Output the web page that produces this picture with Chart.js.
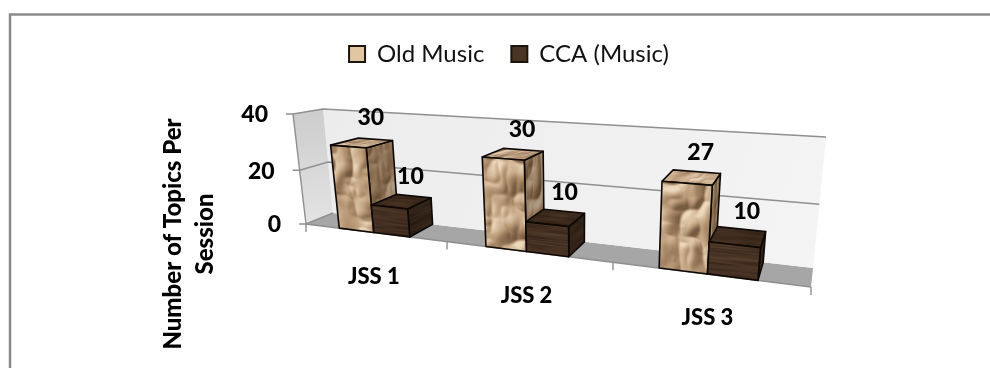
<!DOCTYPE html>
<html>
<head>
<meta charset="utf-8">
<script src="https://cdn.jsdelivr.net/npm/chart.js@4"></script>
<style>
  html, body { margin: 0; padding: 0; background: #fff; }
  canvas { display: block; }
</style>
</head>
<body>
<canvas id="chart-topics" width="990" height="368"></canvas>
<script>
const categories = ['JSS 1', 'JSS 2', 'JSS 3'];
const oldMusic = [30, 30, 27];
const ccaMusic = [10, 10, 10];
const seriesNames = ['Old Music', 'CCA (Music)'];
const axisTitleLines = ['Number of Topics Per', 'Session'];

const FONT = 'Lato, "Liberation Sans", Arial, sans-serif';
const HEAVY = '900 ';

// corners of the 3D box the plot area gets projected onto: [u0v0, u1v0, u0v1, u1v1]
const FRONT_PLANE = [[306, 224], [811, 287], [293, 114], [825, 147]];
const BACK_PLANE  = [[333, 213], [813, 268], [323, 109], [826, 137]];

function quadTransform(q) {
  const [p00, p10, p01, p11] = q;
  const dx1 = p10[0] - p11[0], dx2 = p01[0] - p11[0], sx = p00[0] - p10[0] + p11[0] - p01[0];
  const dy1 = p10[1] - p11[1], dy2 = p01[1] - p11[1], sy = p00[1] - p10[1] + p11[1] - p01[1];
  const det = dx1 * dy2 - dx2 * dy1;
  const g = (sx * dy2 - dx2 * sy) / det;
  const h = (dx1 * sy - sx * dy1) / det;
  const a = p10[0] - p00[0] + g * p10[0], b = p01[0] - p00[0] + h * p01[0], c = p00[0];
  const d = p10[1] - p00[1] + g * p10[1], e = p01[1] - p00[1] + h * p01[1], f = p00[1];
  return (u, v) => {
    const w = g * u + h * v + 1;
    return [(a * u + b * v + c) / w, (d * u + e * v + f) / w];
  };
}

const frontMap = quadTransform(FRONT_PLANE);
const backMap = quadTransform(BACK_PLANE);

function project(u, v, depth) {
  const f = frontMap(u, v), b = backMap(u, v);
  return [f[0] + (b[0] - f[0]) * depth, f[1] + (b[1] - f[1]) * depth];
}

function mix(a, b, t) {
  return a.map((c, i) => c + (b[i] - c) * t);
}

// lattice noise for the bar textures
function hash2(ix, iy) {
  const s = Math.sin(ix * 127.1 + iy * 311.7) * 43758.5453;
  return s - Math.floor(s);
}

function valueNoise(x, y) {
  const ix = Math.floor(x), iy = Math.floor(y);
  const fx = x - ix, fy = y - iy;
  const sx = fx * fx * (3 - 2 * fx), sy = fy * fy * (3 - 2 * fy);
  const top = hash2(ix, iy) + (hash2(ix + 1, iy) - hash2(ix, iy)) * sx;
  const bot = hash2(ix, iy + 1) + (hash2(ix + 1, iy + 1) - hash2(ix, iy + 1)) * sx;
  return top + (bot - top) * sy;
}

// height field of the crumpled sheet
function paperHeight(x, y) {
  const a = Math.abs(2 * valueNoise(x / 34, y / 34) - 1);
  const b = Math.abs(2 * valueNoise(x / 15 + 5, y / 15 + 7) - 1);
  return 22 * a + 6 * b;
}

// crumpled paper: light the height field from the upper left
function makePaperTexture(w, h) {
  const cv = document.createElement('canvas');
  cv.width = w; cv.height = h;
  const c = cv.getContext('2d');
  const img = c.createImageData(w, h);
  const dark = [118, 90, 64], base = [186, 154, 120], light = [236, 216, 188];
  for (let y = 0; y < h; y++) {
    for (let x = 0; x < w; x++) {
      const slope = paperHeight(x + 2, y + 2) - paperHeight(x - 2, y - 2);
      const n = Math.max(-1, Math.min(1, slope / 7));
      const col = n < 0 ? mix(base, dark, -n) : mix(base, light, n);
      const i = (y * w + x) * 4;
      img.data[i] = col[0]; img.data[i + 1] = col[1]; img.data[i + 2] = col[2]; img.data[i + 3] = 255;
    }
  }
  c.putImageData(img, 0, 0);
  return cv;
}

// dark wood: long horizontal streaks
function makeWoodTexture(w, h) {
  const cv = document.createElement('canvas');
  cv.width = w; cv.height = h;
  const c = cv.getContext('2d');
  const img = c.createImageData(w, h);
  const dark = [48, 30, 20], light = [92, 68, 50];
  for (let y = 0; y < h; y++) {
    for (let x = 0; x < w; x++) {
      const n = 0.6 * valueNoise(x / 70, y / 4) + 0.4 * valueNoise(x / 40 + 8, y / 9 + 2);
      const col = mix(dark, light, n);
      const i = (y * w + x) * 4;
      img.data[i] = col[0]; img.data[i + 1] = col[1]; img.data[i + 2] = col[2]; img.data[i + 3] = 255;
    }
  }
  c.putImageData(img, 0, 0);
  return cv;
}

const paperTex = makePaperTexture(400, 400);
const woodTex = makeWoodTexture(400, 400);

function polygon(ctx, pts) {
  ctx.beginPath();
  pts.forEach((p, i) => i ? ctx.lineTo(p[0], p[1]) : ctx.moveTo(p[0], p[1]));
  ctx.closePath();
}

// pts run top-left, top-right, bottom-right, bottom-left
function drawFace(ctx, pts, tex, crop, shade) {
  const [sx, sy, sw, sh] = crop;
  ctx.save();
  polygon(ctx, pts);
  ctx.clip();
  const [p0, p1, , p3] = pts;
  ctx.transform((p1[0] - p0[0]) / sw, (p1[1] - p0[1]) / sw, (p3[0] - p0[0]) / sh, (p3[1] - p0[1]) / sh, p0[0], p0[1]);
  ctx.imageSmoothingQuality = 'high';
  ctx.drawImage(tex, -sx, -sy);
  ctx.restore();
  if (shade) {
    polygon(ctx, pts);
    ctx.fillStyle = shade;
    ctx.fill();
  }
  polygon(ctx, pts);
  ctx.strokeStyle = '#0d0805';
  ctx.lineWidth = 1.6;
  ctx.lineJoin = 'round';
  ctx.stroke();
}

function drawBox(ctx, u0, u1, v, tex, crop, topShade, sideShade) {
  const f00 = project(u0, 0, 0), f10 = project(u1, 0, 0);
  const f01 = project(u0, v, 0), f11 = project(u1, v, 0);
  const b10 = project(u1, 0, 1), b01 = project(u0, v, 1), b11 = project(u1, v, 1);
  drawFace(ctx, [f11, b11, b10, f10], tex, [crop[0] + 60, crop[1] + 20, 70, 110], sideShade);
  drawFace(ctx, [b01, b11, f11, f01], tex, [crop[0], crop[1] + 150, 110, 40], topShade);
  drawFace(ctx, [f01, f11, f10, f00], tex, crop, null);
}

const walls3d = {
  id: 'walls3d',
  beforeDraw(chart) {
    const ctx = chart.ctx;
    // frame: left and top only, the rest runs off the page
    ctx.save();
    ctx.strokeStyle = '#8a8a8a';
    ctx.lineWidth = 2.5;
    ctx.beginPath();
    ctx.moveTo(10, 368);
    ctx.lineTo(10, 14.5);
    ctx.lineTo(990, 14.5);
    ctx.stroke();
    ctx.restore();
  },
  beforeDatasetsDraw(chart) {
    const ctx = chart.ctx;
    const area = chart.chartArea;
    const xScale = chart.scales.x, yScale = chart.scales.y;
    const toU = px => (px - area.left) / (area.right - area.left);
    const toV = px => (area.bottom - px) / (area.bottom - area.top);

    ctx.save();

    // floor
    polygon(ctx, [project(0, 0, 0), project(1, 0, 0), project(1, 0, 1), project(0, 0, 1)]);
    ctx.fillStyle = '#a6a6a6';
    ctx.fill();

    // back wall
    const backTop = project(0, 1, 1), backBottom = project(0, 0, 1);
    polygon(ctx, [backTop, project(1, 1, 1), project(1, 0, 1), backBottom]);
    const backFill = ctx.createLinearGradient(backTop[0], backTop[1], 826, 268);
    backFill.addColorStop(0, '#ececec');
    backFill.addColorStop(1, '#f4f4f4');
    ctx.fillStyle = backFill;
    ctx.fill();

    // side wall, lighter toward the floor
    const sideTop = project(0, 1, 0.5), sideBottom = project(0, 0, 0.5);
    polygon(ctx, [project(0, 1, 0), project(0, 1, 1), project(0, 0, 1), project(0, 0, 0)]);
    const sideFill = ctx.createLinearGradient(sideTop[0], sideTop[1], sideBottom[0], sideBottom[1]);
    sideFill.addColorStop(0, '#cdcdcd');
    sideFill.addColorStop(1, '#e2e2e2');
    ctx.fillStyle = sideFill;
    ctx.fill();

    // gridlines run along the side wall and across the back wall
    ctx.strokeStyle = '#8f8f8f';
    ctx.lineWidth = 1.4;
    const tickV = yScale.ticks.map(t => toV(yScale.getPixelForValue(t.value)));
    tickV.forEach(v => {
      const a = project(0, v, 0), b = project(0, v, 1), c = project(1, v, 1);
      ctx.beginPath();
      ctx.moveTo(a[0] - 7, a[1]);
      ctx.lineTo(a[0], a[1]);
      ctx.lineTo(b[0], b[1]);
      if (v > 0) ctx.lineTo(c[0], c[1]);
      ctx.stroke();
    });

    // axis edges and category ticks
    const axisTop = project(0, 1, 0), axisBottom = project(0, 0, 0), axisEnd = project(1, 0, 0);
    ctx.beginPath();
    ctx.moveTo(axisTop[0], axisTop[1]);
    ctx.lineTo(axisBottom[0], axisBottom[1]);
    ctx.lineTo(axisEnd[0], axisEnd[1]);
    ctx.stroke();
    const slotCount = categories.length;
    for (let i = 0; i <= slotCount; i++) {
      const p = project(i / slotCount, 0, 0);
      ctx.beginPath();
      ctx.moveTo(p[0], p[1]);
      ctx.lineTo(p[0], p[1] + 8);
      ctx.stroke();
    }

    // bars, group by group so the nearer ones overlap properly
    const labels = [];
    categories.forEach((cat, i) => {
      chart.data.datasets.forEach((ds, di) => {
        const el = chart.getDatasetMeta(di).data[i];
        const u0 = toU(el.x - el.width / 2), u1 = toU(el.x + el.width / 2);
        const v = toV(el.y);
        const crop = [10 + i * 90, 10 + i * 70, 75, 120];
        if (di === 0) {
          drawBox(ctx, u0, u1, v, paperTex, crop, 'rgba(255,240,215,0.1)', 'rgba(60,40,20,0.35)');
        } else {
          drawBox(ctx, u0, u1, v, woodTex, crop, 'rgba(30,18,8,0.25)', 'rgba(15,8,4,0.35)');
        }
        const top = project((u0 + u1) / 2, v, 0.5);
        labels.push([ds.data[i], top[0] + 9, top[1] - 25]);
      });
    });

    // value labels
    ctx.fillStyle = '#000';
    ctx.textAlign = 'center';
    ctx.textBaseline = 'middle';
    ctx.font = HEAVY + '23px ' + FONT;
    labels.forEach(([val, x, y]) => ctx.fillText(String(val), x, y));

    // value axis labels
    yScale.ticks.forEach(t => {
      const p = project(0, toV(yScale.getPixelForValue(t.value)), 0);
      ctx.textAlign = 'right';
      ctx.fillText(String(t.value), p[0] - 25, p[1] + 1);
    });

    // category labels
    ctx.textAlign = 'center';
    ctx.font = HEAVY + '22px ' + FONT;
    categories.forEach((cat, i) => {
      const u = toU(xScale.getPixelForValue(i));
      const p = project(u, 0, 0);
      ctx.fillText(cat, p[0], p[1] + 44);
    });

    // axis title, two lines
    ctx.save();
    ctx.translate(173, 234);
    ctx.rotate(-Math.PI / 2);
    ctx.font = HEAVY + '24px ' + FONT;
    ctx.fillText(axisTitleLines[0], 0, 0);
    ctx.fillText(axisTitleLines[1], 0, 32);
    ctx.restore();

    ctx.restore();
    return false;
  }
};

new Chart(document.getElementById('chart-topics'), {
  type: 'bar',
  data: {
    labels: categories,
    datasets: [{
      label: seriesNames[0],
      data: oldMusic,
      backgroundColor: '#e2c6a2',
      borderColor: '#1c140e',
      borderWidth: 2
    }, {
      label: seriesNames[1],
      data: ccaMusic,
      backgroundColor: '#4a3525',
      borderColor: '#1c140e',
      borderWidth: 2
    }]
  },
  options: {
    responsive: false,
    animation: false,
    layout: { padding: { left: 28, top: 15, right: 0, bottom: 0 } },
    categoryPercentage: 0.5,
    barPercentage: 1,
    scales: {
      x: { display: false },
      y: { display: false, min: 0, max: 40, ticks: { stepSize: 20 } }
    },
    plugins: {
      tooltip: { enabled: false },
      legend: {
        position: 'top',
        labels: {
          boxWidth: 16,
          boxHeight: 16,
          padding: 27,
          color: '#111',
          font: { family: FONT, size: 24 }
        }
      }
    }
  },
  plugins: [walls3d]
});
</script>
</body>
</html>
